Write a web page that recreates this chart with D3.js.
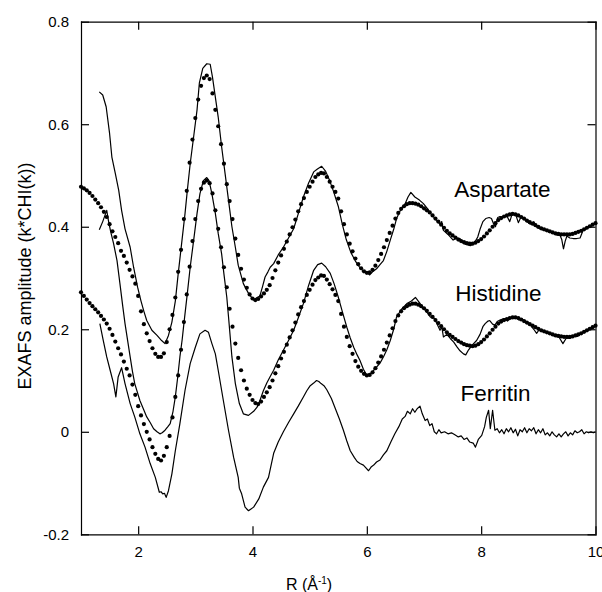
<!DOCTYPE html>
<html>
<head>
<meta charset="utf-8">
<script src="https://cdn.jsdelivr.net/npm/d3@7"></script>
<style>
  body { margin: 0; background: #fff; }
  svg { display: block; font-family: "Liberation Sans", Arial, Helvetica, sans-serif; }
  .axis path, .axis line { stroke: #000; stroke-width: 1.2; }
  .axis text { font-size: 15px; fill: #000; }
</style>
</head>
<body>
<svg width="602" height="592"></svg>
<script>

// ======================= DATA =======================
// fits (dotted) are sampled on a regular grid: R = 1.00, 1.05, ... 10.00
const fitStart = 1.0;
const fitStep = 0.05;

const aspartateFit = [
  0.478,0.475,0.471,0.466,0.460,0.453,0.446,0.438,0.429,0.419,
  0.405,0.391,0.380,0.368,0.353,0.343,0.330,0.316,0.303,0.289,
  0.265,0.235,0.210,0.192,0.177,0.163,0.152,0.146,0.146,0.153,
  0.175,0.200,0.228,0.262,0.312,0.355,0.415,0.470,0.525,0.570,
  0.612,0.648,0.675,0.690,0.695,0.688,0.660,0.628,0.596,0.561,
  0.523,0.483,0.450,0.415,0.377,0.345,0.318,0.297,0.281,0.268,
  0.260,0.257,0.259,0.264,0.270,0.277,0.286,0.300,0.315,0.330,
  0.344,0.357,0.371,0.385,0.399,0.414,0.430,0.444,0.456,0.468,
  0.478,0.488,0.497,0.502,0.505,0.504,0.497,0.488,0.478,0.468,
  0.455,0.430,0.405,0.385,0.367,0.352,0.338,0.327,0.319,0.313,
  0.310,0.311,0.316,0.324,0.335,0.347,0.360,0.374,0.388,0.402,
  0.416,0.427,0.435,0.440,0.444,0.446,0.446,0.445,0.443,0.440,
  0.436,0.432,0.428,0.422,0.416,0.410,0.404,0.398,0.392,0.387,
  0.383,0.379,0.375,0.372,0.370,0.368,0.367,0.367,0.369,0.372,
  0.376,0.381,0.387,0.393,0.400,0.407,0.413,0.417,0.420,0.422,
  0.424,0.425,0.424,0.422,0.419,0.416,0.412,0.409,0.406,0.403,
  0.400,0.397,0.395,0.393,0.391,0.389,0.387,0.386,0.385,0.385,
  0.385,0.385,0.386,0.388,0.390,0.392,0.395,0.398,0.401,0.404,
  0.407
];

const histidineFit = [
  0.272,0.265,0.258,0.251,0.245,0.239,0.233,0.226,0.219,0.211,
  0.201,0.189,0.176,0.163,0.151,0.137,0.123,0.110,0.092,0.072,
  0.050,0.032,0.015,0.000,-0.015,-0.030,-0.043,-0.053,-0.056,-0.047,
  -0.030,-0.008,0.028,0.068,0.110,0.160,0.214,0.268,0.322,0.372,
  0.415,0.450,0.474,0.486,0.490,0.485,0.465,0.432,0.396,0.360,
  0.321,0.282,0.240,0.205,0.172,0.144,0.120,0.100,0.084,0.072,
  0.062,0.056,0.054,0.059,0.068,0.077,0.087,0.100,0.114,0.128,
  0.143,0.156,0.170,0.184,0.198,0.213,0.229,0.243,0.255,0.267,
  0.277,0.287,0.296,0.301,0.305,0.304,0.297,0.288,0.278,0.267,
  0.255,0.230,0.205,0.185,0.167,0.152,0.138,0.127,0.119,0.113,
  0.110,0.111,0.116,0.124,0.135,0.147,0.160,0.174,0.188,0.202,
  0.216,0.227,0.235,0.241,0.245,0.248,0.250,0.250,0.248,0.245,
  0.241,0.236,0.230,0.224,0.218,0.212,0.206,0.200,0.194,0.189,
  0.185,0.181,0.177,0.174,0.171,0.169,0.168,0.167,0.168,0.171,
  0.175,0.180,0.186,0.192,0.199,0.205,0.211,0.215,0.218,0.220,
  0.222,0.223,0.223,0.222,0.219,0.216,0.213,0.210,0.207,0.204,
  0.201,0.198,0.196,0.194,0.192,0.190,0.188,0.187,0.186,0.185,
  0.185,0.185,0.186,0.188,0.190,0.192,0.195,0.198,0.201,0.204,
  0.207
];

// measured spectra (solid), [R, amplitude]
const aspartateData = [
  [1.32,0.663],[1.38,0.657],[1.44,0.634],[1.50,0.582],[1.54,0.536],[1.60,0.504],[1.66,0.471],[1.71,0.432],
  [1.77,0.396],[1.86,0.36],[1.92,0.321],[1.99,0.282],[2.05,0.255],[2.10,0.235],[2.15,0.217],[2.24,0.198],
  [2.33,0.188],[2.41,0.178],[2.47,0.172],[2.53,0.188],[2.59,0.214],[2.65,0.255],[2.70,0.308],[2.76,0.367],
  [2.82,0.426],[2.86,0.471],[2.91,0.523],[2.97,0.575],[3.03,0.628],[3.07,0.68],[3.13,0.709],[3.20,0.718],
  [3.26,0.717],[3.30,0.692],[3.35,0.653],[3.40,0.614],[3.46,0.556],[3.52,0.504],[3.58,0.452],[3.64,0.40],
  [3.70,0.36],[3.75,0.325],[3.84,0.289],[3.93,0.27],[4.02,0.257],[4.08,0.262],[4.13,0.265],[4.18,0.285],
  [4.22,0.302],[4.27,0.312],[4.31,0.321],[4.37,0.328],[4.45,0.345],[4.54,0.36],[4.63,0.378],[4.72,0.396],
  [4.80,0.425],[4.89,0.458],[4.98,0.485],[5.07,0.507],[5.13,0.512],[5.21,0.518],[5.28,0.508],[5.35,0.49],
  [5.42,0.468],[5.50,0.44],[5.57,0.405],[5.64,0.375],[5.72,0.35],[5.80,0.333],[5.88,0.32],[5.95,0.312],
  [6.00,0.31],[6.05,0.306],[6.10,0.312],[6.17,0.318],[6.23,0.326],[6.29,0.334],[6.35,0.352],[6.41,0.374],
  [6.47,0.395],[6.52,0.416],[6.60,0.435],[6.67,0.445],[6.72,0.458],[6.77,0.467],[6.84,0.458],[6.92,0.452],
  [6.99,0.445],[7.05,0.437],[7.12,0.425],[7.22,0.413],[7.28,0.405],[7.31,0.41],[7.34,0.393],[7.42,0.385],
  [7.51,0.374],[7.58,0.378],[7.63,0.377],[7.69,0.367],[7.75,0.365],[7.81,0.363],[7.88,0.368],[7.94,0.38],
  [7.98,0.395],[8.03,0.41],[8.08,0.416],[8.14,0.418],[8.18,0.416],[8.22,0.405],[8.25,0.4],[8.29,0.418],
  [8.33,0.42],[8.38,0.418],[8.45,0.421],[8.50,0.41],[8.54,0.424],[8.60,0.425],[8.65,0.408],[8.70,0.42],
  [8.75,0.416],[8.80,0.41],[8.86,0.405],[8.92,0.41],[8.98,0.398],[9.05,0.395],[9.12,0.393],[9.18,0.39],
  [9.25,0.388],[9.32,0.384],[9.38,0.383],[9.41,0.375],[9.44,0.357],[9.47,0.372],[9.50,0.382],[9.55,0.378],
  [9.61,0.377],[9.67,0.377],[9.73,0.378],[9.78,0.392],[9.84,0.396],[9.90,0.4],[9.95,0.403],[10.0,0.408]
];

const histidineData = [
  [1.32,0.394],[1.38,0.41],[1.45,0.432],[1.48,0.412],[1.52,0.39],[1.57,0.367],[1.63,0.334],[1.68,0.29],
  [1.73,0.245],[1.77,0.211],[1.82,0.175],[1.86,0.146],[1.90,0.118],[1.94,0.094],[2.03,0.061],[2.09,0.045],
  [2.15,0.029],[2.21,0.018],[2.27,0.006],[2.33,0.0],[2.38,-0.004],[2.42,-0.002],[2.47,0.003],[2.52,0.01],
  [2.56,0.016],[2.61,0.04],[2.65,0.068],[2.69,0.105],[2.73,0.146],[2.77,0.18],[2.80,0.211],[2.86,0.27],
  [2.91,0.321],[2.97,0.373],[3.03,0.426],[3.08,0.464],[3.14,0.49],[3.20,0.496],[3.24,0.49],[3.29,0.464],
  [3.35,0.426],[3.40,0.387],[3.46,0.347],[3.50,0.308],[3.55,0.263],[3.58,0.225],[3.64,0.146],[3.70,0.094],
  [3.77,0.055],[3.84,0.035],[3.93,0.032],[4.02,0.04],[4.08,0.048],[4.13,0.061],[4.19,0.08],[4.25,0.095],
  [4.31,0.108],[4.37,0.12],[4.45,0.14],[4.54,0.159],[4.63,0.178],[4.72,0.198],[4.80,0.222],[4.89,0.25],
  [4.98,0.285],[5.07,0.315],[5.14,0.326],[5.21,0.329],[5.28,0.322],[5.36,0.309],[5.43,0.288],[5.50,0.263],
  [5.57,0.235],[5.65,0.204],[5.71,0.183],[5.77,0.165],[5.83,0.15],[5.88,0.139],[5.94,0.122],[6.00,0.11],
  [6.06,0.112],[6.12,0.12],[6.17,0.126],[6.23,0.134],[6.29,0.146],[6.35,0.16],[6.41,0.178],[6.47,0.2],
  [6.52,0.224],[6.60,0.238],[6.70,0.25],[6.78,0.255],[6.85,0.262],[6.92,0.252],[7.00,0.24],[7.06,0.232],
  [7.11,0.224],[7.19,0.221],[7.22,0.212],[7.28,0.198],[7.31,0.205],[7.34,0.185],[7.40,0.19],[7.46,0.182],
  [7.52,0.175],[7.58,0.165],[7.63,0.158],[7.69,0.152],[7.73,0.15],[7.78,0.16],[7.85,0.17],[7.92,0.178],
  [7.98,0.19],[8.03,0.205],[8.07,0.211],[8.12,0.216],[8.15,0.217],[8.20,0.21],[8.24,0.208],[8.28,0.215],
  [8.33,0.218],[8.40,0.221],[8.46,0.216],[8.52,0.222],[8.60,0.224],[8.66,0.218],[8.72,0.22],[8.78,0.213],
  [8.85,0.21],[8.92,0.2],[8.97,0.192],[9.02,0.2],[9.08,0.196],[9.15,0.193],[9.22,0.19],[9.30,0.186],
  [9.36,0.185],[9.43,0.172],[9.49,0.183],[9.55,0.182],[9.62,0.188],[9.68,0.186],[9.75,0.192],[9.82,0.196],
  [9.90,0.2],[9.95,0.203],[10.0,0.206]
];

const ferritinData = [
  [1.33,0.211],[1.39,0.178],[1.45,0.146],[1.51,0.12],[1.57,0.094],[1.61,0.068],[1.65,0.107],[1.71,0.125],
  [1.77,0.094],[1.86,0.055],[1.94,0.029],[2.03,-0.004],[2.12,-0.03],[2.21,-0.062],[2.30,-0.089],[2.37,-0.118],
  [2.40,-0.117],[2.43,-0.121],[2.46,-0.12],[2.49,-0.128],[2.53,-0.115],[2.59,-0.082],[2.65,-0.037],[2.73,0.016],
  [2.82,0.081],[2.91,0.133],[3.00,0.165],[3.08,0.191],[3.17,0.198],[3.23,0.194],[3.29,0.172],[3.35,0.152],
  [3.40,0.12],[3.49,0.061],[3.58,0.003],[3.67,-0.05],[3.75,-0.089],[3.77,-0.11],[3.81,-0.121],[3.87,-0.147],
  [3.93,-0.154],[4.02,-0.147],[4.11,-0.131],[4.19,-0.108],[4.28,-0.089],[4.37,-0.042],[4.45,-0.02],[4.54,0.0],
  [4.63,0.018],[4.72,0.035],[4.80,0.05],[4.89,0.068],[4.95,0.08],[5.01,0.09],[5.07,0.095],[5.12,0.1],
  [5.16,0.098],[5.20,0.094],[5.25,0.09],[5.30,0.082],[5.38,0.065],[5.45,0.045],[5.52,0.025],[5.59,0.003],
  [5.65,-0.018],[5.71,-0.037],[5.78,-0.05],[5.83,-0.058],[5.88,-0.062],[5.94,-0.065],[5.98,-0.07],[6.03,-0.076],
  [6.08,-0.068],[6.12,-0.065],[6.17,-0.059],[6.23,-0.055],[6.29,-0.045],[6.35,-0.037],[6.42,-0.02],[6.49,-0.004],
  [6.56,0.01],[6.62,0.025],[6.67,0.03],[6.71,0.04],[6.76,0.035],[6.80,0.045],[6.84,0.038],[6.88,0.045],
  [6.93,0.05],[6.97,0.035],[7.02,0.022],[7.06,0.025],[7.10,0.012],[7.14,0.016],[7.18,0.0],[7.22,-0.004],
  [7.26,0.004],[7.30,-0.002],[7.36,0.0],[7.42,-0.004],[7.48,-0.002],[7.54,-0.006],[7.60,-0.01],[7.65,-0.008],
  [7.70,-0.015],[7.75,-0.012],[7.80,-0.02],[7.86,-0.022],[7.90,-0.03],[7.95,-0.015],[8.01,-0.007],[8.06,0.01],
  [8.09,0.028],[8.13,0.042],[8.16,0.006],[8.20,0.042],[8.24,0.003],[8.28,0.006],[8.32,-0.002],[8.36,0.004],
  [8.40,-0.004],[8.44,0.006],[8.48,0.0],[8.52,0.008],[8.56,-0.002],[8.60,0.005],[8.64,-0.008],[8.68,0.004],
  [8.72,0.0],[8.76,0.008],[8.80,-0.002],[8.84,0.006],[8.88,0.002],[8.92,0.008],[8.96,-0.004],[9.00,0.004],
  [9.04,-0.002],[9.08,0.006],[9.12,-0.006],[9.16,-0.002],[9.20,-0.008],[9.24,0.0],[9.28,-0.006],[9.32,-0.01],
  [9.36,-0.004],[9.40,-0.01],[9.44,-0.004],[9.48,0.0],[9.52,-0.008],[9.56,-0.002],[9.60,-0.006],[9.64,0.002],
  [9.68,-0.002],[9.72,0.0],[9.76,0.004],[9.80,-0.004],[9.84,0.0],[9.88,-0.002],[9.92,0.0],[9.96,-0.002],[10.0,0.0]
];

const xTicks = [2, 4, 6, 8, 10];
const yTicks = [-0.2, 0, 0.2, 0.4, 0.6, 0.8];

// series names and where the name sits [R, amplitude]
const seriesNames = ["Aspartate", "Histidine", "Ferritin"];
const namePos = [[7.53, 0.458], [7.545, 0.256], [7.64, 0.061]];

// ======================= DRAW =======================
const svg = d3.select("svg");

const x = d3.scaleLinear().domain([1, 10]).range([81, 595.5]);
const y = d3.scaleLinear().domain([-0.2, 0.8]).range([534.3, 21.7]);

const yFmt = d => d === 0 ? "0" : d3.format(".1f")(d).replace("\u2212", "-");

// @ frame: four axes with inward ticks
svg.append("g").attr("class", "axis")
  .attr("transform", `translate(0,${y(-0.2)})`)
  .call(d3.axisBottom(x).tickValues(xTicks).tickSizeInner(-8).tickSizeOuter(0).tickPadding(12).tickFormat(d3.format("d")));

svg.append("g").attr("class", "axis")
  .attr("transform", `translate(0,${y(0.8)})`)
  .call(d3.axisTop(x).tickValues(xTicks).tickSizeInner(-8).tickSizeOuter(0).tickFormat(""));

svg.append("g").attr("class", "axis")
  .attr("transform", `translate(${x(1)},0)`)
  .call(d3.axisLeft(y).tickValues(yTicks).tickSizeInner(-8).tickSizeOuter(0).tickPadding(12).tickFormat(yFmt));

svg.append("g").attr("class", "axis")
  .attr("transform", `translate(${x(10)},0)`)
  .call(d3.axisRight(y).tickValues(yTicks).tickSizeInner(-8).tickSizeOuter(0).tickFormat(""));

svg.selectAll(".axis .domain").attr("stroke-linecap", "square");

// @ measured spectra
const line = d3.line().x(d => x(d[0])).y(d => y(d[1]));

[aspartateData, histidineData, ferritinData].forEach(series => {
  svg.append("path")
    .datum(series)
    .attr("d", line)
    .attr("fill", "none")
    .attr("stroke", "#000")
    .attr("stroke-width", 1.2)
    .attr("stroke-linejoin", "round");
});

// @ fits as dots
[aspartateFit, histidineFit].forEach(series => {
  svg.append("g")
    .selectAll("circle")
    .data(series)
    .enter().append("circle")
    .attr("cx", (d, i) => x(fitStart + i * fitStep))
    .attr("cy", d => y(d))
    .attr("r", 2.1)
    .attr("fill", "#000");
});

// @ series names
svg.selectAll(".name")
  .data(seriesNames)
  .enter().append("text")
  .attr("class", "name")
  .attr("x", (d, i) => x(namePos[i][0]))
  .attr("y", (d, i) => y(namePos[i][1]))
  .style("font-size", "22.5px")
  .text(d => d);

// @ axis titles
svg.append("text")
  .attr("transform", `translate(31,276) rotate(-90)`)
  .attr("text-anchor", "middle")
  .style("font-size", "18px")
  .text("EXAFS amplitude (k*CHI(k))");

const xt = svg.append("text")
  .attr("x", 309)
  .attr("y", 590)
  .attr("text-anchor", "middle")
  .style("font-size", "16px");
xt.append("tspan").text("R (\u00c5");
xt.append("tspan").attr("dy", -6).style("font-size", "10px").text("-1");
xt.append("tspan").attr("dy", 6).text(")");

</script>
</body>
</html>
